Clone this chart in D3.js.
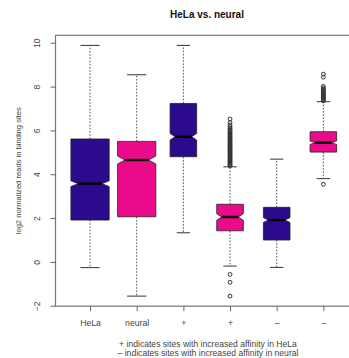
<!DOCTYPE html>
<html>
<head>
<meta charset="utf-8">
<script src="https://cdn.jsdelivr.net/npm/d3@7"></script>
<style>
  html, body { margin: 0; padding: 0; background: #fff; }
  svg { display: block; font-family: "Liberation Sans", Arial, sans-serif; }
</style>
</head>
<body>
<svg id="chart" width="349" height="358"></svg>
<script>
// ---- data ----
const categories = ["HeLa", "neural", "+", "+", "\u2013", "\u2013"];
const groups = ["HeLa", "neural", "HeLa", "neural", "HeLa", "neural"];
const whiskerLow  = [-0.26, -1.56, 1.33, -0.19, -0.25, 3.80];
const q1          = [1.91, 2.06, 4.80, 1.42, 1.00, 5.01];
const medians     = [3.57, 4.65, 5.71, 2.05, 1.91, 5.44];
const q3          = [5.61, 5.50, 7.23, 2.63, 2.49, 5.94];
const whiskerHigh = [9.88, 8.54, 9.88, 4.34, 4.69, 7.31];
const notchLow    = [3.44, 4.47, 5.56, 1.90, 1.80, 5.36];
const notchHigh   = [3.70, 4.83, 5.86, 2.20, 2.02, 5.52];
const outliers = [
  [],
  [],
  [],
  [4.38, 4.42, 4.46, 4.50, 4.55, 4.59, 4.63, 4.68, 4.72, 4.77, 4.81, 4.86, 4.90, 4.95, 5.00,
   5.04, 5.09, 5.13, 5.18, 5.23, 5.27, 5.32, 5.36, 5.41, 5.46, 5.50, 5.55, 5.60, 5.64, 5.69,
   5.74, 5.79, 5.84, 5.89, 5.94, 5.99, 6.04, 6.10, 6.17, 6.25, 6.36, 6.52,
   -0.57, -0.93, -1.56],
  [],
  [7.35, 7.39, 7.43, 7.47, 7.51, 7.55, 7.60, 7.64, 7.68, 7.73, 7.78, 7.83, 7.88, 7.94, 8.01,
   8.43, 8.57, 3.54]
];
const yTicks = [-2, 0, 2, 4, 6, 8, 10];
const title = "HeLa vs. neural";
const yTitle = "log2 normalized reads in binding sites";
const notes = ["+ indicates sites with increased affinity in HeLa",
               "\u2013 indicates sites with increased affinity in neural"];

// ---- layout / style ----
const relWidth = [0.82, 0.82, 0.57, 0.57, 0.57, 0.57];
const colors = { HeLa: "#2c0a8e", neural: "#ea0a8a" };
const notchFrac = 0.62;

const svg = d3.select("#chart");
const x = d3.scaleLinear().domain([0.26, 6.74]).range([55.5, 357.9]);
const y = d3.scaleLinear().domain([-2.02, 10.34]).range([306.2, 35.3]);
const unit = x(2) - x(1);

const boxes = categories.map((c, i) => ({
  i, pos: i + 1, group: groups[i],
  lo: whiskerLow[i], q1: q1[i], med: medians[i], q3: q3[i], hi: whiskerHigh[i],
  nl: notchLow[i], nh: notchHigh[i], out: outliers[i], hw: relWidth[i] * unit / 2
}));

const g = svg.append("g");

// whiskers (dashed)
boxes.forEach(b => {
  const cx = x(b.pos);
  g.append("line").attr("x1", cx).attr("x2", cx).attr("y1", y(b.q3)).attr("y2", y(b.hi))
    .attr("stroke", "#555").attr("stroke-width", 1).attr("stroke-dasharray", "1.6,1.6");
  g.append("line").attr("x1", cx).attr("x2", cx).attr("y1", y(b.q1)).attr("y2", y(b.lo))
    .attr("stroke", "#555").attr("stroke-width", 1).attr("stroke-dasharray", "1.6,1.6");
  // staples
  [b.hi, b.lo].forEach(v => {
    g.append("line").attr("x1", cx - b.hw / 2).attr("x2", cx + b.hw / 2)
      .attr("y1", y(v)).attr("y2", y(v)).attr("stroke", "#333").attr("stroke-width", 1);
  });
});

// notched boxes
boxes.forEach(b => {
  const cx = x(b.pos), w = b.hw, nf = notchFrac;
  const pts = [
    [cx - w, y(b.q1)], [cx + w, y(b.q1)], [cx + w, y(b.nl)], [cx + w * nf, y(b.med)],
    [cx + w, y(b.nh)], [cx + w, y(b.q3)], [cx - w, y(b.q3)], [cx - w, y(b.nh)],
    [cx - w * nf, y(b.med)], [cx - w, y(b.nl)]
  ];
  g.append("path").attr("d", d3.line()(pts) + "Z")
    .attr("fill", colors[b.group]).attr("stroke", "#222").attr("stroke-width", 0.8);
  g.append("line").attr("x1", cx - w * nf).attr("x2", cx + w * nf)
    .attr("y1", y(b.med)).attr("y2", y(b.med)).attr("stroke", "#000").attr("stroke-width", 2.4);
});

// outliers
boxes.forEach(b => {
  g.selectAll(null).data(b.out).enter().append("circle")
    .attr("cx", x(b.pos)).attr("cy", d => y(d)).attr("r", 1.9)
    .attr("fill", "none").attr("stroke", "#333").attr("stroke-width", 1);
});

// frame
svg.append("rect").attr("x", x(0.26)).attr("y", y(10.34))
  .attr("width", x(6.74) - x(0.26)).attr("height", y(-2.02) - y(10.34))
  .attr("fill", "none").attr("stroke", "#777").attr("stroke-width", 1.2);

// y axis
const yAxis = svg.append("g").attr("transform", `translate(${x(0.26)},0)`)
  .call(d3.axisLeft(y).tickValues(yTicks).tickSize(5).tickFormat(d => d < 0 ? "\u2212" + Math.abs(d) : d));
yAxis.select(".domain").remove();
yAxis.selectAll(".tick line").attr("stroke", "#666");
yAxis.selectAll(".tick text")
  .attr("x", null).attr("dy", null)
  .attr("transform", "translate(-18.5,0) rotate(-90)")
  .attr("text-anchor", "middle").attr("dominant-baseline", "central")
  .attr("font-size", 8.5).attr("fill", "#444").attr("font-family", "Liberation Sans, Arial, sans-serif");

// x axis
const xAxis = svg.append("g").attr("transform", `translate(0,${y(-2.02)})`)
  .call(d3.axisBottom(x).tickValues(boxes.map(b => b.pos)).tickSize(5)
    .tickFormat(d => categories[d - 1]));
xAxis.select(".domain").remove();
xAxis.selectAll(".tick line").attr("stroke", "#666");
xAxis.selectAll(".tick text")
  .attr("y", 16.5).attr("dy", null).attr("dominant-baseline", "central")
  .attr("font-size", 8.7).attr("fill", "#444").attr("font-family", "Liberation Sans, Arial, sans-serif");

// title
svg.append("text").attr("x", 207).attr("y", 14.5).attr("text-anchor", "middle")
  .attr("dominant-baseline", "central").attr("font-weight", "bold").attr("font-size", 10)
  .attr("fill", "#111").text(title);

// y title
svg.append("text").attr("transform", `translate(18,${(y(-2.02) + y(10.34)) / 2}) rotate(-90)`)
  .attr("text-anchor", "middle").attr("dominant-baseline", "central")
  .attr("font-size", 7.6).attr("fill", "#444").text(yTitle);

// footnotes
notes.forEach((t, k) => {
  svg.append("text").attr("x", 208).attr("y", 344 + k * 9).attr("text-anchor", "middle")
    .attr("dominant-baseline", "central").attr("font-size", 8.6).attr("fill", "#444").text(t);
});
</script>
</body>
</html>
